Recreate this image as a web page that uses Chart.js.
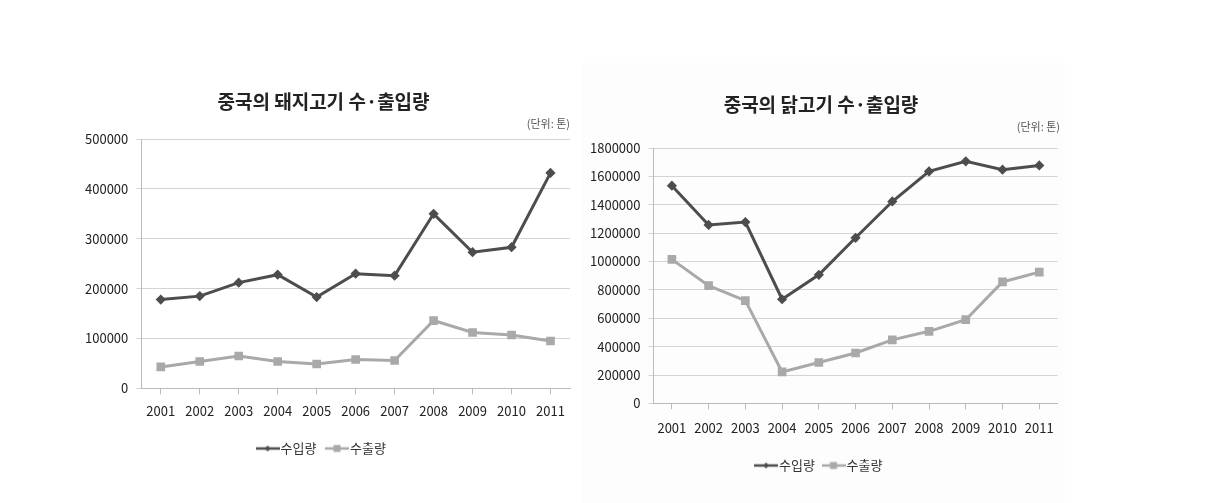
<!DOCTYPE html>
<html>
<head>
<meta charset="utf-8">
<script src="https://cdn.jsdelivr.net/npm/chart.js@4.4.0/dist/chart.umd.min.js"></script>
<style>
  body { margin: 0; background: #fff; width: 1205px; height: 503px; position: relative; overflow: hidden; }
  .box { position: absolute; }
  #porkBox { left: 70px; top: 80px; width: 510px; height: 400px; }
  #chickenBox { left: 582px; top: 63px; width: 483px; height: 440px; background: #fdfdfd; }
</style>
</head>
<body>
<div class="box" id="porkBox"><canvas id="pork"></canvas></div>
<div class="box" id="chickenBox"><canvas id="chicken"></canvas></div>
<script>
const years = ['2001', '2002', '2003', '2004', '2005', '2006', '2007', '2008', '2009', '2010', '2011'];

// 돼지고기 (단위: 톤)
const porkImport = [178000, 185000, 212000, 228000, 183000, 230000, 226000, 350000, 273000, 283000, 432000];
const porkExport = [43000, 54000, 65000, 54000, 49000, 58000, 56000, 136000, 112000, 107000, 95000];

// 닭고기 (단위: 톤)
const chickenImport = [1534000, 1258000, 1278000, 734000, 906000, 1167000, 1423000, 1635000, 1706000, 1647000, 1677000];
const chickenExport = [1015000, 830000, 724000, 222000, 288000, 355000, 448000, 508000, 590000, 856000, 925000];

const seriesNames = ['수입량', '수출량'];
const darkGray = '#4d4d4d';
const lightGray = '#a9a9a9';
const font = "'Noto Sans CJK KR', 'Noto Sans', sans-serif";

// legend marker: short line with point in the middle
function legendIcon(color, shape) {
  const c = document.createElement('canvas');
  c.width = 24; c.height = 10;
  const ctx = c.getContext('2d');
  ctx.strokeStyle = color;
  ctx.lineWidth = 2.5;
  ctx.beginPath(); ctx.moveTo(0, 5); ctx.lineTo(24, 5); ctx.stroke();
  ctx.fillStyle = color;
  ctx.beginPath();
  if (shape === 'diamond') {
    ctx.moveTo(12, 2); ctx.lineTo(15, 5); ctx.lineTo(12, 8); ctx.lineTo(9, 5);
  } else {
    ctx.rect(8.5, 1.5, 7, 7);
  }
  ctx.fill();
  return c;
}

function makeChart(id, imp, exp, title, max, step, opt) {
  return new Chart(document.getElementById(id), {
    type: 'line',
    data: {
      labels: years,
      datasets: [
        {
          label: seriesNames[0],
          data: imp,
          borderColor: darkGray,
          backgroundColor: darkGray,
          borderWidth: 3,
          pointStyle: 'rectRot',
          pointRadius: 3,
          tension: 0,
        },
        {
          label: seriesNames[1],
          data: exp,
          borderColor: lightGray,
          backgroundColor: lightGray,
          borderWidth: 3,
          pointStyle: 'rect',
          pointRadius: 4,
          tension: 0,
        },
      ]
    },
    options: {
      responsive: true,
      maintainAspectRatio: false,
      animation: false,
      layout: { padding: opt.pad },
      plugins: {
        title: {
          display: true,
          text: title,
          color: '#222',
          font: { family: font, size: 19, weight: 'bold' },
          padding: { top: 0, bottom: 4 },
        },
        subtitle: {
          display: true,
          text: '(단위: 톤)',
          align: 'end',
          color: '#555',
          font: { family: font, size: 11 },
          padding: { top: 0, bottom: opt.subGap },
        },
        legend: {
          position: 'bottom',
          labels: {
            usePointStyle: true,
            boxWidth: 24,
            boxHeight: 10,
            padding: opt.legendPad,
            color: '#333',
            font: { family: font, size: 13 },
            generateLabels: (chart) => chart.data.datasets.map((ds, i) => ({
              text: ds.label,
              datasetIndex: i,
              pointStyle: legendIcon(ds.borderColor, i === 0 ? 'diamond' : 'square'),
              fillStyle: ds.borderColor,
              strokeStyle: ds.borderColor,
              fontColor: '#333',
              lineWidth: 0,
            })),
          },
        },
        tooltip: { enabled: false },
      },
      scales: {
        x: {
          offset: true,
          grid: { display: true, drawOnChartArea: false, color: '#bbb', tickLength: 6 },
          border: { color: '#bbb' },
          ticks: { color: '#222', font: { family: font, size: 13 }, padding: opt.xPad, maxRotation: 0 },
        },
        y: {
          min: 0,
          max: max,
          grid: { color: '#d4d4d4', tickLength: 5 },
          border: { color: '#bbb' },
          ticks: {
            stepSize: step,
            color: '#222',
            font: { family: font, size: 13 },
            padding: 8,
            callback: (v) => String(v),
          },
        }
      }
    }
  });
}

makeChart('pork', porkImport, porkExport, '중국의 돼지고기 수·출입량', 500000, 100000,
  { pad: { left: 7, right: 10, top: 10, bottom: 15 }, subGap: 9, xPad: 9, legendPad: 14 });
makeChart('chicken', chickenImport, chickenExport, '중국의 닭고기 수·출입량', 1800000, 200000,
  { pad: { left: 0, right: 5, top: 30, bottom: 21 }, subGap: 15, xPad: 11, legendPad: 12 });
</script>
</body>
</html>
